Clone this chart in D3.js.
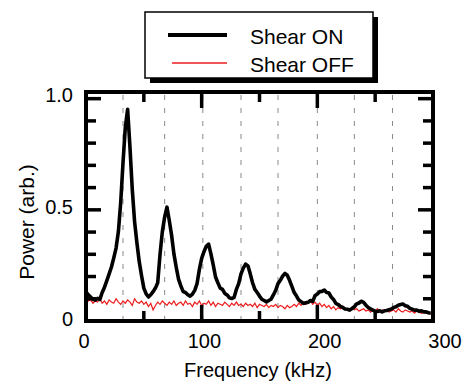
<!DOCTYPE html>
<html>
<head>
<meta charset="utf-8">
<script src="https://cdn.jsdelivr.net/npm/d3@7"></script>
<style>
  html, body { margin: 0; padding: 0; background: #fff; }
  svg { display: block; }
  text { font-family: "Liberation Sans", Arial, Helvetica, sans-serif; fill: #000; }
</style>
</head>
<body>
<svg id="chart" width="464" height="381"></svg>
<script>
// ---- data ----
const freqStep = 2; // kHz between samples
const shearOn = [
  0.13,0.118,0.108,0.098,0.094,0.102,0.097,0.128,0.152,0.182,
  0.212,0.243,0.284,0.328,0.402,0.532,0.712,0.872,0.952,0.782,
  0.592,0.447,0.352,0.268,0.205,0.148,0.122,0.108,0.118,0.132,
  0.148,0.172,0.30,0.402,0.468,0.512,0.452,0.386,0.302,0.242,
  0.188,0.158,0.132,0.128,0.118,0.112,0.121,0.138,0.168,0.232,
  0.282,0.312,0.336,0.346,0.302,0.252,0.198,0.172,0.148,0.142,
  0.124,0.117,0.104,0.101,0.106,0.142,0.168,0.212,0.238,0.256,
  0.248,0.212,0.172,0.142,0.128,0.112,0.098,0.092,0.086,0.092,
  0.098,0.117,0.138,0.168,0.183,0.202,0.214,0.206,0.183,0.156,
  0.128,0.112,0.094,0.087,0.079,0.082,0.084,0.092,0.088,0.114,
  0.121,0.132,0.133,0.139,0.128,0.126,0.108,0.097,0.079,0.074,
  0.066,0.061,0.054,0.053,0.049,0.056,0.064,0.077,0.081,0.089,
  0.084,0.071,0.061,0.054,0.049,0.044,0.043,0.046,0.041,0.046,
  0.047,0.051,0.054,0.061,0.064,0.071,0.074,0.076,0.069,0.066,
  0.057,0.053,0.049,0.049,0.044,0.046,0.041,0.041,0.037,0.035
];
const shearOff = [
  0.105,0.09,0.095,0.08,0.09,0.085,0.10,0.08,0.09,0.075,
  0.095,0.085,0.08,0.10,0.085,0.075,0.09,0.08,0.095,0.085,
  0.07,0.10,0.085,0.08,0.09,0.075,0.085,0.065,0.08,0.05,
  0.07,0.085,0.075,0.09,0.08,0.07,0.085,0.075,0.09,0.07,
  0.08,0.085,0.07,0.09,0.075,0.08,0.065,0.085,0.075,0.09,
  0.07,0.08,0.075,0.09,0.07,0.085,0.065,0.08,0.075,0.07,
  0.085,0.075,0.065,0.08,0.07,0.085,0.07,0.075,0.065,0.08,
  0.07,0.075,0.065,0.08,0.06,0.075,0.07,0.065,0.075,0.06,
  0.07,0.065,0.075,0.06,0.07,0.065,0.055,0.07,0.06,0.065,
  0.075,0.065,0.08,0.07,0.085,0.075,0.08,0.09,0.075,0.085,
  0.07,0.08,0.065,0.075,0.06,0.07,0.055,0.065,0.05,0.06,
  0.055,0.06,0.05,0.055,0.045,0.06,0.05,0.055,0.045,0.05,
  0.055,0.045,0.05,0.04,0.05,0.045,0.055,0.04,0.05,0.045,
  0.05,0.04,0.045,0.05,0.04,0.055,0.045,0.04,0.05,0.045,
  0.04,0.045,0.035,0.045,0.04,0.035,0.04,0.035,0.04,0.03
];
const gridFreqs = [32, 68, 101, 134, 166, 200, 232, 265];
const xTickLabels = [0, 100, 200, 300];
const yTickLabels = [1.0, 0.5, 0];
const xMajorTicks = [100, 200];
const xMinorTicks = [50, 150, 250];
const yMajorTicks = [0.5, 1.0];
const yMinorTicks = [0.1, 0.2, 0.3, 0.4, 0.6, 0.7, 0.8, 0.9];
const seriesNames = ["Shear ON", "Shear OFF"];
const seriesColors = ["#000000", "#ee1c1c"];

// ---- scales ----
const svg = d3.select("#chart");
const x = d3.scaleLinear().domain([0, 300]).range([86, 433]);
const y = d3.scaleLinear().domain([0, 1.03]).range([321, 92]);
const xLab = d3.scaleLinear().domain([0, 300]).range([84, 445]);
const yLab = d3.scaleLinear().domain([0, 1]).range([326, 102]);

// grid (dashed)
svg.append("g").selectAll("line").data(gridFreqs).join("line")
  .attr("x1", d => x(d)).attr("x2", d => x(d))
  .attr("y1", y(1.03)).attr("y2", y(0))
  .attr("stroke", "#8a8a8a").attr("stroke-width", 1)
  .attr("stroke-dasharray", "5,8").attr("stroke-dashoffset", -3);

const line = d3.line().x((d, i) => x(i * freqStep)).y(d => y(d));

svg.append("path").datum(shearOff).attr("d", line)
  .attr("fill", "none").attr("stroke", seriesColors[1]).attr("stroke-width", 1.2);
svg.append("path").datum(shearOn).attr("d", line)
  .attr("fill", "none").attr("stroke", seriesColors[0]).attr("stroke-width", 3.6)
  .attr("stroke-linejoin", "round");

// ticks
const tk = svg.append("g").attr("stroke", "#000").attr("stroke-width", 3.5);
function xt(vals, len) {
  vals.forEach(v => {
    tk.append("line").attr("x1", x(v)).attr("x2", x(v)).attr("y1", y(0)).attr("y2", y(0) - len);
    tk.append("line").attr("x1", x(v)).attr("x2", x(v)).attr("y1", y(1.03)).attr("y2", y(1.03) + len);
  });
}
function yt(vals, len) {
  vals.forEach(v => {
    tk.append("line").attr("x1", x(0)).attr("x2", x(0) + len).attr("y1", y(v)).attr("y2", y(v));
    tk.append("line").attr("x1", x(300)).attr("x2", x(300) - len).attr("y1", y(v)).attr("y2", y(v));
  });
}
xt(xMajorTicks, 16); xt(xMinorTicks, 10);
yt(yMajorTicks, 15); yt(yMinorTicks, 10);

// frame
svg.append("rect")
  .attr("x", x(0)).attr("y", y(1.03))
  .attr("width", x(300) - x(0)).attr("height", y(0) - y(1.03))
  .attr("fill", "none").attr("stroke", "#000").attr("stroke-width", 4);

// tick labels
svg.append("g").selectAll("text").data(xTickLabels).join("text")
  .attr("x", d => xLab(d)).attr("y", 348)
  .attr("text-anchor", "middle").attr("font-size", 20)
  .text(d => d);
svg.append("g").selectAll("text").data(yTickLabels).join("text")
  .attr("x", 73).attr("y", d => yLab(d))
  .attr("text-anchor", "end").attr("font-size", 20)
  .text(d => d === 0 ? "0" : d.toFixed(1));

// axis titles
svg.append("text").attr("x", 258).attr("y", 377)
  .attr("text-anchor", "middle").attr("font-size", 20).text("Frequency (kHz)");
svg.append("text").attr("transform", "translate(34,222) rotate(-90)")
  .attr("text-anchor", "middle").attr("font-size", 21).text("Power (arb.)");

// legend
const lg = svg.append("g");
lg.append("rect").attr("x", 150).attr("y", 17).attr("width", 228).attr("height", 66).attr("fill", "#000");
lg.append("rect").attr("x", 145).attr("y", 12).attr("width", 228).attr("height", 66)
  .attr("fill", "#fff").attr("stroke", "#000").attr("stroke-width", 1.5);
const legY = [35, 63];
seriesNames.forEach((n, i) => {
  lg.append("line").attr("x1", i === 0 ? 168 : 172).attr("x2", 227)
    .attr("y1", legY[i]).attr("y2", legY[i])
    .attr("stroke", seriesColors[i]).attr("stroke-width", i === 0 ? 4 : 1.5);
  lg.append("text").attr("x", 250).attr("y", legY[i] + 8.5)
    .attr("font-size", 21).text(n);
});
</script>
</body>
</html>
